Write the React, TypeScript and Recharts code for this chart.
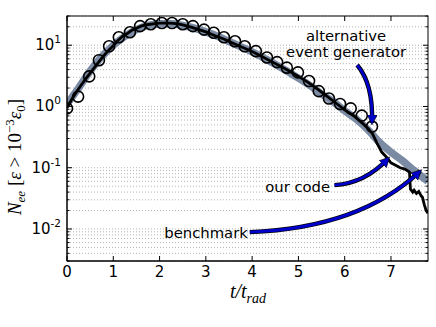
import React from "react";
import { LineChart, Line, XAxis, YAxis, CartesianGrid } from "recharts";

// our code (noisy stepped histogram)
const codeT = [0, 0.1, 0.2, 0.3, 0.4, 0.5, 0.6, 0.7, 0.8, 0.9, 1.0, 1.1, 1.2, 1.3, 1.4, 1.5, 1.6, 1.7, 1.8, 1.9, 2.0, 2.1, 2.2, 2.3, 2.4, 2.5, 2.6, 2.7, 2.8, 2.9, 3.0, 3.2, 3.4, 3.6, 3.8, 4.0, 4.2, 4.4, 4.6, 4.8, 5.0, 5.2, 5.4, 5.6, 5.8, 6.0, 6.2, 6.4, 6.5, 6.6, 6.7, 6.8, 6.9, 7.0, 7.1, 7.2, 7.3, 7.4, 7.42, 7.47, 7.5, 7.55, 7.6, 7.65, 7.68, 7.72, 7.76, 7.8];
const codeV = [0.95, 1.3, 1.7, 2.2, 2.8, 3.5, 4.4, 5.5, 6.8, 8.3, 9.8, 12, 14, 15.5, 17.5, 19, 20.5, 21.5, 22, 22.5, 23, 23, 23, 22.8, 22.3, 21.5, 20.5, 19.5, 18.5, 17.5, 16.5, 14.3, 12.5, 10.7, 9.2, 7.9, 6.6, 5.5, 4.6, 3.8, 3.1, 2.5, 1.95, 1.5, 1.15, 0.88, 0.7, 0.52, 0.44, 0.36, 0.25, 0.18, 0.15, 0.12, 0.11, 0.1, 0.095, 0.085, 0.045, 0.04, 0.043, 0.038, 0.041, 0.035, 0.033, 0.025, 0.02, 0.018];

// benchmark (thick smooth band)
const benchT = [0, 0.25, 0.5, 0.75, 1.0, 1.25, 1.5, 1.75, 2.0, 2.25, 2.5, 2.75, 3.0, 3.25, 3.5, 3.75, 4.0, 4.25, 4.5, 4.75, 5.0, 5.25, 5.5, 5.75, 6.0, 6.25, 6.5, 6.75, 7.0, 7.25, 7.5, 7.8];
const benchV = [1.1, 2.0, 3.8, 6.5, 10, 14, 18, 21, 22.5, 22.5, 21, 19, 16.5, 14, 11.5, 9.5, 7.8, 6.2, 4.9, 3.8, 2.9, 2.2, 1.6, 1.2, 0.85, 0.62, 0.42, 0.26, 0.18, 0.13, 0.09, 0.06];

// alternative event generator (open circles)
const altT = [0, 0.24, 0.48, 0.69, 0.91, 1.12, 1.36, 1.58, 1.81, 2.05, 2.27, 2.5, 2.72, 2.96, 3.17, 3.39, 3.63, 3.84, 4.08, 4.32, 4.54, 4.75, 4.99, 5.23, 5.44, 5.66, 5.9, 6.13, 6.37, 6.59];
const altV = [0.93, 1.45, 3.1, 5.7, 9.6, 13.5, 16.3, 20.5, 22, 23, 23, 22, 20.5, 18, 16, 13.5, 11.6, 9.6, 8, 6.3, 5.3, 4.3, 3.6, 2.6, 1.78, 1.35, 1.1, 0.93, 0.71, 0.47];

const xTicks = [0, 1, 2, 3, 4, 5, 6, 7];
const yTicks = [0.003, 0.004, 0.005, 0.006, 0.007, 0.008, 0.009, 0.01, 0.02, 0.03, 0.04, 0.05, 0.06, 0.07, 0.08, 0.09, 0.1, 0.2, 0.3, 0.4, 0.5, 0.6, 0.7, 0.8, 0.9, 1, 2, 3, 4, 5, 6, 7, 8, 9, 10, 20, 30];
const yMajor: Record<string, string> = { "0.01": "-2", "0.1": "-1", "1": "0", "10": "1" };

const codeData = codeT.map((t, i) => ({ t, v: codeV[i] }));
const benchData = benchT.map((t, i) => ({ t, v: benchV[i] }));
const altData = altT.map((t, i) => ({ t, v: altV[i] }));

const W = 436;
const H = 327;
const L = 67;
const T = 16;
const R = 428;
const B = 261;
const X_MAX = 7.8;
const Y_MIN = 0.003;
const Y_MAX = 30;

// same mapping as the chart axes, used for the annotation layer
const px = (t: number) => L + (t / X_MAX) * (R - L);
const py = (v: number) =>
  T + ((Math.log10(Y_MAX) - Math.log10(v)) / (Math.log10(Y_MAX) - Math.log10(Y_MIN))) * (B - T);

const arrows = [
  { from: [6.27, 4.75], ctrl: [6.62, 2.3], to: [6.59, 0.54] },
  { from: [5.78, 0.052], ctrl: [6.44, 0.056], to: [6.94, 0.142] },
  { from: [3.95, 0.0089], ctrl: [6.33, 0.0104], to: [7.63, 0.088] },
];

const tickFont = { fontFamily: "DejaVu Sans", fontSize: 15, fill: "#000" };

const XTick = (props: any) => {
  const { x, payload } = props;
  return (
    <g>
      <line x1={x} x2={x} y1={B} y2={B - 5} stroke="#000" />
      <text x={x} y={B + 16} textAnchor="middle" {...tickFont}>
        {payload.value}
      </text>
    </g>
  );
};

const YTick = (props: any) => {
  const { y, payload } = props;
  const exp = yMajor[String(payload.value)];
  return (
    <g>
      <line x1={L} x2={L + (exp ? 5 : 2.5)} y1={y} y2={y} stroke="#000" />
      {exp && (
        <text x={L - 6} y={y + 5} textAnchor="end" {...tickFont}>
          10
          <tspan fontSize={10.5} dy={-7}>{exp}</tspan>
        </text>
      )}
    </g>
  );
};

const Circle = (props: any) => {
  const { cx, cy } = props;
  if (cx == null || cy == null) return null;
  return <circle cx={cx} cy={cy} r={5.5} fill="none" stroke="#000" strokeWidth={1.6} />;
};

const App = () => {
  return (
    <div style={{ position: "absolute", left: 0, top: 0, width: W, height: H, background: "#fff" }}>
      <LineChart width={W} height={H} margin={{ top: T, right: W - R, bottom: 0, left: 0 }}>
        <CartesianGrid vertical={false} stroke="#b5b5b5" strokeDasharray="1 2" />
        <XAxis
          dataKey="t"
          type="number"
          domain={[0, X_MAX]}
          ticks={xTicks}
          allowDataOverflow
          height={H - B}
          axisLine={{ stroke: "#000" }}
          tickLine={false}
          tick={<XTick />}
        />
        <YAxis
          dataKey="v"
          type="number"
          scale="log"
          domain={[Y_MIN, Y_MAX]}
          ticks={yTicks}
          allowDataOverflow
          width={L}
          axisLine={{ stroke: "#000" }}
          tickLine={false}
          tickSize={0}
          interval={0}
          tick={<YTick />}
        />
        <Line
          data={benchData}
          dataKey="v"
          type="monotone"
          stroke="#7b8ba3"
          strokeWidth={7.5}
          dot={false}
          isAnimationActive={false}
        />
        <Line
          data={codeData}
          dataKey="v"
          type="linear"
          stroke="#000"
          strokeWidth={2.8}
          dot={false}
          isAnimationActive={false}
        />
        <Line
          data={altData}
          dataKey="v"
          stroke="none"
          dot={<Circle />}
          activeDot={false}
          isAnimationActive={false}
        />
      </LineChart>
      <svg width={W} height={H} style={{ position: "absolute", left: 0, top: 0, pointerEvents: "none" }}>
        <defs>
          <marker id="head" markerWidth="12" markerHeight="12" refX="8" refY="5" orient="auto" markerUnits="userSpaceOnUse">
            <path d="M0,0 L10,5 L0,10 Z" fill="#0000cc" stroke="#000" strokeWidth={0.6} />
          </marker>
        </defs>
        <rect x={L} y={T} width={R - L} height={B - T} fill="none" stroke="#000" strokeWidth={1} />
        {xTicks.map((t) => (
          <line key={"tx" + t} x1={px(t)} x2={px(t)} y1={T} y2={T + 5} stroke="#000" />
        ))}
        {yTicks.map((v) => (
          <line key={"ry" + v} x1={R} x2={R - (yMajor[String(v)] ? 5 : 2.5)} y1={py(v)} y2={py(v)} stroke="#000" />
        ))}
        {arrows.map((a, i) => {
          const d = `M${px(a.from[0])},${py(a.from[1])} Q${px(a.ctrl[0])},${py(a.ctrl[1])} ${px(a.to[0])},${py(a.to[1])}`;
          return (
            <g key={i}>
              <path d={d} fill="none" stroke="#000" strokeWidth={4.4} />
              <path d={d} fill="none" stroke="#0000cc" strokeWidth={2.8} markerEnd="url(#head)" />
            </g>
          );
        })}
        <g fontFamily="DejaVu Sans" fontSize={14.8} fill="#000">
          <text x={px(6.03)} y={41} textAnchor="middle">alternative</text>
          <text x={px(6.03)} y={57} textAnchor="middle">event generator</text>
          <text x={px(5.75) - 3} y={py(0.04)} textAnchor="end">our code</text>
          <text x={px(3.95) - 2} y={py(0.0072)} textAnchor="end">benchmark</text>
        </g>
        <text x={W / 2 + 30} y={298} textAnchor="middle" fontFamily="Liberation Serif" fontStyle="italic" fontSize={20}>
          t/t<tspan fontSize={14} dy={5}>rad</tspan>
        </text>
        <text
          transform={`translate(21,${157}) rotate(-90)`}
          textAnchor="middle"
          fontFamily="Liberation Serif"
          fontSize={19}
        >
          <tspan fontStyle="italic">N</tspan>
          <tspan fontStyle="italic" fontSize={13} dy={4}>ee</tspan>
          <tspan dy={-4}>{"  ["}</tspan>
          <tspan fontStyle="italic">ε</tspan>
          <tspan>{" > 10"}</tspan>
          <tspan fontSize={13} dy={-7}>−3</tspan>
          <tspan fontStyle="italic" dy={7}>{"ε"}</tspan>
          <tspan fontSize={13} dy={4}>0</tspan>
          <tspan dy={-4}>]</tspan>
        </text>
      </svg>
    </div>
  );
};

export default App;
